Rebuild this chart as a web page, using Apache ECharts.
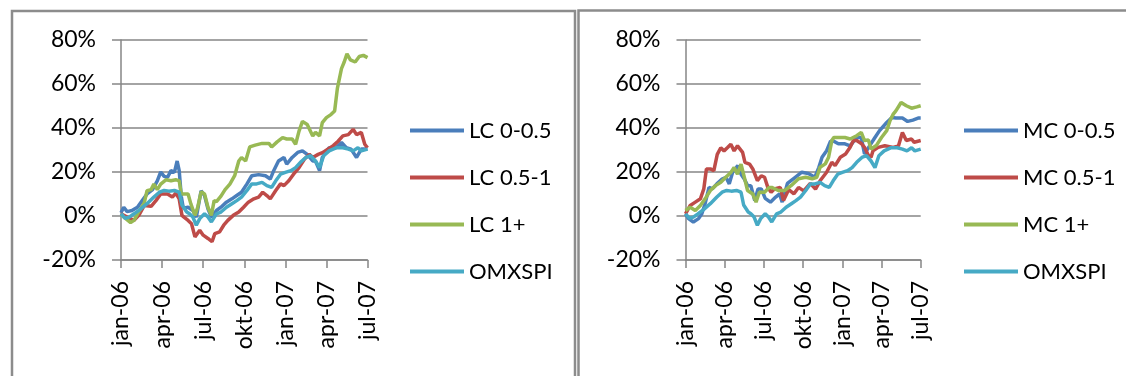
<!DOCTYPE html>
<html>
<head>
<meta charset="utf-8">
<script src="https://cdn.jsdelivr.net/npm/echarts@6/dist/echarts.min.js"></script>
<style>
  html, body { margin: 0; padding: 0; background: #fff; }
  #chart { width: 1126px; height: 376px; }
</style>
</head>
<body>
<div id="chart"></div>
<script>
// Cumulative return (%) since January 2006; x = months after jan-06.
const xTickLabels = ['jan-06', 'apr-06', 'jul-06', 'okt-06', 'jan-07', 'apr-07', 'jul-07'];
const yTicks = { min: -20, max: 80, step: 20 };

const lcNames = ['LC 0-0.5', 'LC 0.5-1', 'LC 1+', 'OMXSPI'];
const mcNames = ['MC 0-0.5', 'MC 0.5-1', 'MC 1+', 'OMXSPI'];

const lc005 = [[0,1.5],[0.2,4],[0.45,2],[0.8,2.5],[1.2,4],[1.55,7],[1.9,10],[2.3,12],[2.65,16],[2.9,20],[3.15,18],[3.4,17.6],[3.65,20.6],[3.9,19.8],[4.1,25],[4.25,20.6],[4.4,9],[4.55,3.5],[4.9,4],[5.25,2.5],[5.5,-0.5],[5.85,11.5],[6.1,9.3],[6.35,3.3],[6.6,-0.5],[6.97,2.5],[7.3,4],[7.7,6.3],[8.1,7.8],[8.45,9.3],[8.8,10.8],[9.2,14.6],[9.55,18.3],[10.05,18.8],[10.55,18.3],[10.9,16.8],[11.15,20.6],[11.5,25],[11.9,26.6],[12.1,23.6],[12.5,26.6],[12.9,28.9],[13.25,29.6],[13.6,28],[14.0,25],[14.2,25],[14.5,20.6],[14.7,26.6],[15.2,31],[15.7,31],[16.1,33.4],[16.45,31],[16.8,30.4],[17.2,26.6],[17.55,30.4],[18,30.4]];
const lc051 = [[0,1],[0.45,-0.5],[0.95,-2],[1.3,0.3],[1.7,4.8],[2.2,4.4],[2.55,7],[2.9,10],[3.4,10],[3.75,8.6],[4.0,10.4],[4.25,7.8],[4.45,0.3],[4.6,-0.5],[4.9,-2],[5.15,-3.5],[5.4,-9.5],[5.75,-6.5],[6.0,-8.7],[6.35,-10.2],[6.65,-11.7],[6.85,-8],[7.2,-7.2],[7.5,-4.2],[7.8,-2],[8.2,0.3],[8.6,1.8],[8.95,4],[9.3,6.3],[9.7,7.8],[10.05,8.6],[10.35,10.8],[10.65,9.3],[10.9,7.8],[11.3,11.6],[11.65,14.6],[11.9,13.8],[12.25,16],[12.6,19],[13.0,22],[13.4,25.9],[13.75,28],[14.0,26.6],[14.4,28],[14.75,28.9],[15.1,30.4],[15.5,32],[15.85,34],[16.2,36.4],[16.6,37],[16.95,39.4],[17.2,37],[17.55,38],[17.8,32.6],[18,31]];
const lc1p = [[0,0.6],[0.3,-1],[0.7,-3],[0.95,-2],[1.3,2],[1.7,6],[1.9,11.5],[2.2,12],[2.4,14.5],[2.65,12],[2.9,14.5],[3.3,16.5],[3.65,16],[4.0,16.5],[4.25,16],[4.4,10],[4.6,10],[4.9,10],[5.1,5.5],[5.4,0.3],[5.6,4],[5.85,11],[6.1,10],[6.35,4],[6.6,0.3],[6.8,7],[6.97,6.5],[7.3,9],[7.6,12],[7.95,14.5],[8.3,18.3],[8.6,25],[8.8,26.6],[9.1,25],[9.4,31.4],[9.8,32.2],[10.3,33],[10.8,33],[11.0,31.4],[11.4,33.7],[11.8,35.6],[12.1,35],[12.5,35],[12.75,32.6],[13.0,38.6],[13.25,43],[13.6,41.6],[14.0,36.4],[14.2,38],[14.5,36.4],[14.7,42.4],[15.0,44.7],[15.35,46.2],[15.6,47.7],[15.8,58],[16.1,67],[16.3,70],[16.5,73.7],[16.75,71],[17.1,70],[17.4,72.5],[17.7,73],[18,72]];

const mc005 = [[0,1],[0.23,-1.2],[0.6,-2.7],[1.0,-1.2],[1.25,1],[1.5,5.6],[1.8,13],[2.05,12.3],[2.4,14.6],[2.8,16.8],[3.1,17.6],[3.35,14.6],[3.6,19.8],[4.0,22.9],[4.25,19],[4.5,16.8],[4.75,13.8],[5.0,13.8],[5.3,7],[5.55,12.3],[5.8,12.3],[6.1,8],[6.5,6.3],[6.9,8.6],[7.2,10],[7.4,6.3],[7.8,14.8],[8.4,17.6],[8.9,19.9],[9.4,19.3],[9.9,17.6],[10.2,22],[10.45,26.7],[10.8,29.7],[11.1,34],[11.35,34],[11.7,32.8],[12.2,32.8],[12.6,31.9],[13.1,35.7],[13.45,35.7],[13.7,28.2],[14.1,32],[14.5,35.7],[14.85,38.8],[15.4,42.5],[15.8,44.8],[16.1,44.5],[16.6,44.5],[17.0,43],[17.4,43.6],[17.8,44.5],[18,44.5]];
const mc051 = [[0,1],[0.36,4.8],[0.75,6.3],[1.14,7.8],[1.4,12.3],[1.6,21.4],[1.9,21.4],[2.17,20.6],[2.43,28],[2.7,31],[2.95,29.6],[3.2,31],[3.47,32.6],[3.72,29.6],[3.98,31.9],[4.1,32.6],[4.37,28.9],[4.55,24.4],[4.9,23.6],[5.15,21.4],[5.5,16.1],[5.8,18.3],[6.05,17.6],[6.3,13],[6.55,10.8],[6.8,12.3],[6.9,13],[7.25,13],[7.5,7],[7.9,12],[8.3,10.1],[8.65,13],[9.05,11.4],[9.55,14.8],[9.95,12.2],[10.3,16],[10.8,19.9],[11.2,24.4],[11.45,22.9],[11.85,26.7],[12.25,28.2],[12.6,31.2],[12.85,34.3],[13.1,34.3],[13.45,33],[13.7,31.2],[14.0,27.5],[14.2,26.7],[14.35,29.7],[14.75,31.2],[15.25,31.9],[15.9,31.2],[16.3,31.9],[16.6,38],[16.9,34.3],[17.3,35],[17.5,33.5],[18,34.3]];
const mc1p = [[0,2.5],[0.36,4],[0.75,2.5],[1.14,4.8],[1.5,7.8],[1.9,11.6],[2.3,13.8],[2.7,15.3],[3.08,17.6],[3.47,19.8],[3.72,22],[3.98,19],[4.25,23.6],[4.5,17.6],[4.75,11.6],[5.15,10],[5.4,6.3],[5.65,10.8],[6.05,10.8],[6.2,10],[6.4,13],[6.6,13],[7.1,11.6],[7.6,11.6],[8.1,13.9],[8.65,16.9],[9.2,17.6],[9.7,16.9],[10.05,17.6],[10.3,22.2],[10.7,23.7],[10.95,26.7],[11.2,34.3],[11.35,35.7],[11.7,35.7],[12.2,35.7],[12.6,35],[13.1,36.5],[13.45,38],[13.7,34.3],[14.0,34.5],[14.2,30.5],[14.6,32],[15.0,35.7],[15.4,38.8],[15.65,43.3],[15.9,46.3],[16.1,47.8],[16.5,51.6],[16.9,50.1],[17.3,49],[17.7,49.6],[18,50.1]];

const omxspi = [[0,1],[0.3,-1],[0.6,-0.5],[0.95,1],[1.4,3],[1.9,5.6],[2.4,8.6],[2.8,10.8],[3.15,11.6],[3.5,11.3],[3.9,11.6],[4.25,10.8],[4.45,5],[4.8,1.8],[5.0,1],[5.25,-0.5],[5.5,-4.2],[5.75,-1.2],[6.1,1],[6.35,-0.5],[6.6,-2.7],[6.97,1],[7.3,1.8],[7.7,4],[8.1,5.6],[8.45,7],[8.8,8.6],[9.2,11.6],[9.55,14.6],[9.9,14.6],[10.3,15.3],[10.65,13.8],[11.0,13],[11.3,16],[11.65,19],[12.0,19.8],[12.4,20.6],[12.75,22],[13.1,24.4],[13.5,26.6],[13.85,27.4],[14.2,25],[14.5,22],[14.8,27.4],[15.2,29.6],[15.7,31],[16.2,31],[16.6,30.4],[16.95,29.6],[17.3,31],[17.55,29.6],[18,30.4]];

const colors = ['#4a7ebb', '#be4b48', '#98b954', '#46aac5'];
const FONT = 'Lato';
const GRID_GRAY = '#868686';

const lcSeries = [lc005, lc051, lc1p, omxspi];
const mcSeries = [mc005, mc051, mc1p, omxspi];

function xAxisFor(gridIndex) {
  return {
    type: 'value', gridIndex, min: 0, max: 18, interval: 3,
    axisLine: { onZero: false, lineStyle: { color: GRID_GRAY, width: 1.5 } },
    axisTick: { show: true, length: 8, lineStyle: { color: GRID_GRAY, width: 1.5 } },
    splitLine: { show: false },
    axisLabel: {
      rotate: 90, margin: 21, color: '#000', fontFamily: FONT, fontSize: 23,
      formatter: v => xTickLabels[Math.round(v / 3)]
    }
  };
}

function yAxisFor(gridIndex) {
  return {
    type: 'value', gridIndex, min: yTicks.min, max: yTicks.max, interval: yTicks.step,
    axisLine: { show: true, lineStyle: { color: GRID_GRAY, width: 1.5 } },
    axisTick: { show: true, length: 9, lineStyle: { color: GRID_GRAY, width: 1.5 } },
    splitLine: { show: true, lineStyle: { color: GRID_GRAY, width: 1.5 } },
    axisLabel: {
      margin: 25, color: '#000', fontFamily: FONT, fontSize: 23,
      formatter: v => v + '%'
    }
  };
}

function legendFor(names, left) {
  return {
    orient: 'vertical', left, top: 113,
    data: names.map(n => ({ name: n })),
    icon: 'rect', itemWidth: 54, itemHeight: 4, itemGap: 22,
    selectedMode: false,
    textStyle: { color: '#000', fontFamily: FONT, fontSize: 22, lineHeight: 25 }
  };
}

function seriesFor(names, datasets, axisIndex) {
  return datasets.map((d, i) => ({
    name: names[i], type: 'line', xAxisIndex: axisIndex, yAxisIndex: axisIndex,
    data: d, symbol: 'none', smooth: false, animation: false,
    lineStyle: { color: colors[i], width: 3.5 }, itemStyle: { color: colors[i] }
  }));
}

const chart = echarts.init(document.getElementById('chart'));
chart.setOption({
  animation: false,
  grid: [
    { left: 121, top: 40, width: 246.5, height: 220 },
    { left: 685.5, top: 40, width: 235.2, height: 220 }
  ],
  xAxis: [xAxisFor(0), xAxisFor(1)],
  yAxis: [yAxisFor(0), yAxisFor(1)],
  legend: [legendFor(lcNames, 405), legendFor(mcNames, 959)],
  series: [...seriesFor(lcNames, lcSeries, 0), ...seriesFor(mcNames, mcSeries, 1)],
  graphic: [
    { type: 'rect', shape: { x: 12, y: 11, width: 563, height: 420 },
      style: { fill: 'none', stroke: '#8c8c8c', lineWidth: 2.5 }, silent: true },
    { type: 'rect', shape: { x: 578.5, y: 10.5, width: 600, height: 420 },
      style: { fill: 'none', stroke: '#8c8c8c', lineWidth: 2.5 }, silent: true }
  ]
});
</script>
</body>
</html>
